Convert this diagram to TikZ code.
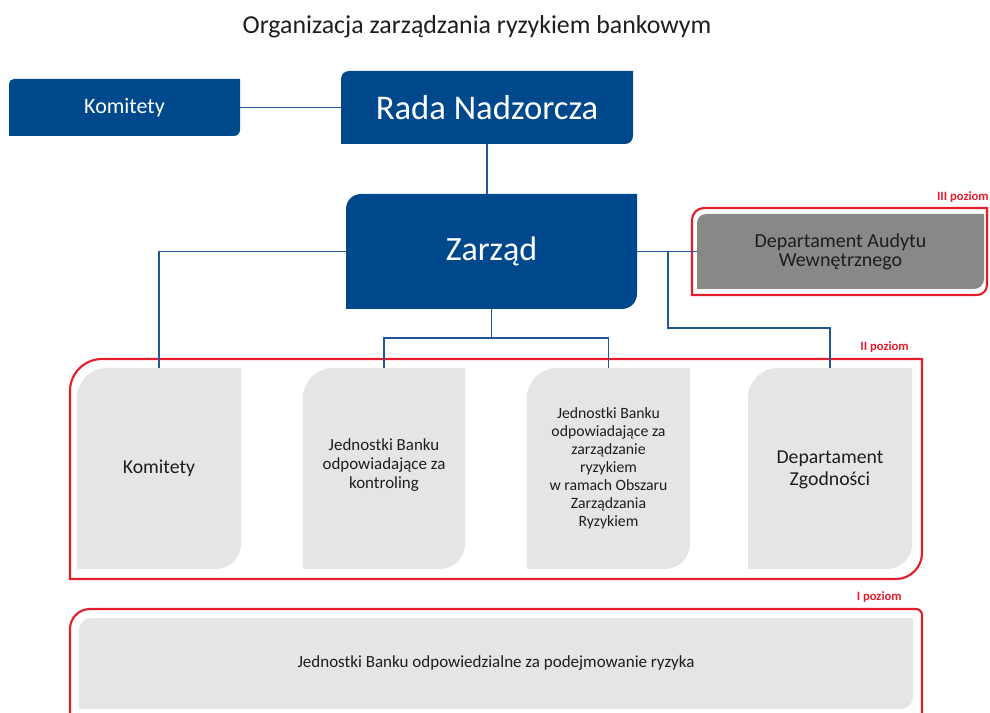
\documentclass[tikz,border=0pt]{standalone}
\usepackage{fontspec}
\setmainfont{Carlito}
\usetikzlibrary{fit}
\definecolor{rblue}{RGB}{0,72,140}
\definecolor{lblue}{RGB}{35,85,155}
\definecolor{rred}{RGB}{228,30,45}
\definecolor{lgrey}{RGB}{229,229,229}
\definecolor{dgrey}{RGB}{136,136,136}
\definecolor{txt}{RGB}{30,30,30}
\newcommand\TLBR[7]{\path[#1] (#2,#5) -- (#2,#3+#6) arc[start angle=180,end angle=270,radius=#6] -- (#4,#3) -- (#4,#5-#7) arc[start angle=0,end angle=90,radius=#7] -- cycle;}
\begin{document}
\begin{tikzpicture}[x=0.75pt,y=-0.75pt,
  area/.style={inner sep=0pt},
  boxt/.style={inner sep=0pt, align=center, text=txt},
  bluet/.style={boxt, text=white},
  conn/.style={draw=lblue, line width=1.4pt},
  frame/.style={draw=rred, line width=1.6pt},
  lab/.style={text=rred, font=\bfseries\fontsize{9.5}{11}\selectfont, inner sep=0pt}]
\useasboundingbox (0,0) rectangle (990,713);
\clip (0,0) rectangle (990,713);

% title
\node[font=\fontsize{19.4}{23}\selectfont, text=txt] (title) at (477,27) {Organizacja zarządzania ryzykiem bankowym};

% frames
\TLBR{frame}{692}{208}{987}{295}{12}{10}
\TLBR{frame}{70}{359}{922}{579}{32}{26}
\draw[frame] (70,725) -- (70,629) arc[start angle=180,end angle=270,radius=20] -- (916,609) arc[start angle=270,end angle=360,radius=6] -- (922,725);

% box shapes
\TLBR{fill=rblue}{9}{79}{240}{136}{5}{6}
\TLBR{fill=rblue}{341}{71}{633}{144}{8}{8}
\TLBR{fill=rblue}{346}{194}{637}{309}{15}{15}
\TLBR{fill=dgrey}{697}{214}{984}{289}{9}{10}
\TLBR{fill=lgrey}{77}{368}{241}{569}{30}{25}
\TLBR{fill=lgrey}{303}{368}{465}{569}{30}{25}
\TLBR{fill=lgrey}{527}{368}{690}{569}{30}{25}
\TLBR{fill=lgrey}{748}{368}{912}{569}{30}{25}
\TLBR{fill=lgrey}{79}{618}{913}{709}{12}{12}

% box areas (named, for connectors)
\node[area, fit={(9,79)(240,136)}] (kom1) {};
\node[area, fit={(341,71)(633,144)}] (rada) {};
\node[area, fit={(346,194)(637,309)}] (zarzad) {};
\node[area, fit={(697,214)(984,289)}] (audit) {};
\node[area, fit={(77,368)(241,569)}] (kom2) {};
\node[area, fit={(303,368)(465,569)}] (kontr) {};
\node[area, fit={(527,368)(690,569)}] (ryz) {};
\node[area, fit={(748,368)(912,569)}] (zgod) {};
\node[area, fit={(79,618)(913,709)}] (jedn) {};

% texts
\node[bluet, font=\fontsize{16.5}{20}\selectfont] (kom1t) at (kom1.center) {Komitety};
\node[bluet, font=\fontsize{26}{30}\selectfont] (radat) at (rada.center) {Rada Nadzorcza};
\node[bluet, font=\fontsize{25.5}{30}\selectfont] (zarzadt) at (zarzad.center) {Zarząd};
\node[boxt, font=\fontsize{15}{14.3}\selectfont] (auditt) at (audit.center) {Departament Audytu\\Wewnętrznego};
\node[boxt, font=\fontsize{14.8}{17}\selectfont] (kom2t) at (159,468) {Komitety};
\node[boxt, font=\fontsize{12.7}{14.3}\selectfont] (kontrt) at (384,465) {Jednostki Banku\\odpowiadające za\\kontroling};
\node[boxt, font=\fontsize{11.8}{13.5}\selectfont] (ryzt) at (608.5,468) {Jednostki Banku\\odpowiadające za\\zarządzanie\\ryzykiem\\w ramach Obszaru\\Zarządzania\\Ryzykiem};
\node[boxt, font=\fontsize{14.8}{16.5}\selectfont] (zgodt) at (830,470) {Departament\\Zgodności};
\node[boxt, font=\fontsize{12.75}{15}\selectfont] (jednt) at (496,663) {Jednostki Banku odpowiedzialne za podejmowanie ryzyka};

% labels
\node[lab, anchor=east] (l3) at (989,197) {III poziom};
\node[lab, anchor=east] (l2) at (909,347) {II poziom};
\node[lab, anchor=east] (l1) at (902,597) {I poziom};

% connectors
\coordinate (bus) at (491.5,338);
\coordinate (br) at (668,251.5);
\coordinate (brk) at (668,328);
\draw[conn] (kom1.east) -- (rada.west);
\draw[conn] (rada.south) -- (rada.south |- zarzad.north);
\draw[conn] (zarzad.west) -| (kom2.north);
\draw[conn] (zarzad.east) -- (audit.west);
\draw[conn] (zarzad.south) -- (bus);
\draw[conn] (kontr.north) |- (bus) -| (ryz.north);
\draw[conn] (br) -- (brk) -| (zgod.north);
\end{tikzpicture}
\end{document}
